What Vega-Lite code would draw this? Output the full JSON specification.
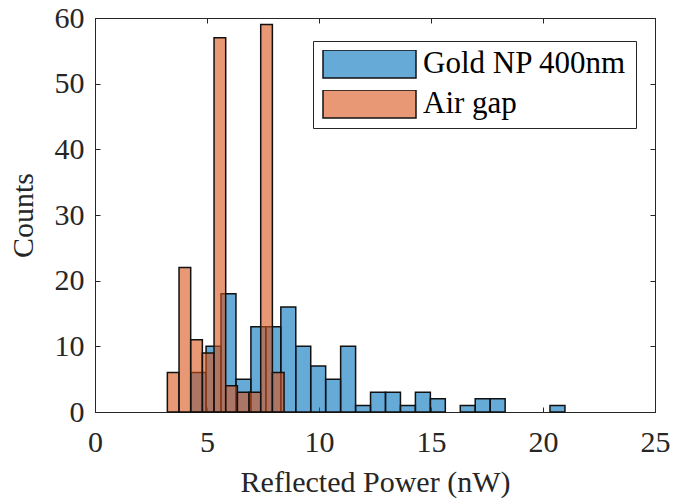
{
  "$schema": "https://vega.github.io/schema/vega-lite/v6.json",
  "width": 560,
  "height": 394,
  "autosize": {"type": "none"},
  "padding": {"left": 95, "top": 18, "right": 33, "bottom": 88},
  "background": "white",
  "config": {
    "font": "Liberation Serif",
    "view": {"stroke": "#262626", "strokeWidth": 1},
    "axis": {
      "grid": false,
      "domainColor": "#262626",
      "tickColor": "#262626",
      "labelColor": "#262626",
      "titleColor": "#262626",
      "labelFont": "Liberation Serif",
      "titleFont": "Liberation Serif",
      "labelFontSize": 30,
      "titleFontSize": 30,
      "titleFontWeight": "normal",
      "labelFlush": false,
      "tickSize": -5,
      "domainWidth": 1
    }
  },
  "data": {
    "values": [
      {"series": "Gold NP 400nm", "x0": 4.29, "x1": 4.958, "count": 6},
      {"series": "Gold NP 400nm", "x0": 4.958, "x1": 5.625, "count": 10},
      {"series": "Gold NP 400nm", "x0": 5.625, "x1": 6.293, "count": 18},
      {"series": "Gold NP 400nm", "x0": 6.293, "x1": 6.96, "count": 5},
      {"series": "Gold NP 400nm", "x0": 6.96, "x1": 7.628, "count": 13},
      {"series": "Gold NP 400nm", "x0": 7.628, "x1": 8.296, "count": 13},
      {"series": "Gold NP 400nm", "x0": 8.296, "x1": 8.963, "count": 16},
      {"series": "Gold NP 400nm", "x0": 8.963, "x1": 9.631, "count": 10},
      {"series": "Gold NP 400nm", "x0": 9.631, "x1": 10.298, "count": 7},
      {"series": "Gold NP 400nm", "x0": 10.298, "x1": 10.966, "count": 5},
      {"series": "Gold NP 400nm", "x0": 10.966, "x1": 11.634, "count": 10},
      {"series": "Gold NP 400nm", "x0": 11.634, "x1": 12.301, "count": 1},
      {"series": "Gold NP 400nm", "x0": 12.301, "x1": 12.969, "count": 3},
      {"series": "Gold NP 400nm", "x0": 12.969, "x1": 13.636, "count": 3},
      {"series": "Gold NP 400nm", "x0": 13.636, "x1": 14.304, "count": 1},
      {"series": "Gold NP 400nm", "x0": 14.304, "x1": 14.972, "count": 3},
      {"series": "Gold NP 400nm", "x0": 14.972, "x1": 15.639, "count": 2},
      {"series": "Gold NP 400nm", "x0": 16.307, "x1": 16.974, "count": 1},
      {"series": "Gold NP 400nm", "x0": 16.974, "x1": 17.642, "count": 2},
      {"series": "Gold NP 400nm", "x0": 17.642, "x1": 18.31, "count": 2},
      {"series": "Gold NP 400nm", "x0": 20.312, "x1": 20.98, "count": 1},
      {"series": "Air gap", "x0": 3.23, "x1": 3.751, "count": 6},
      {"series": "Air gap", "x0": 3.751, "x1": 4.272, "count": 22},
      {"series": "Air gap", "x0": 4.272, "x1": 4.793, "count": 11},
      {"series": "Air gap", "x0": 4.793, "x1": 5.314, "count": 9},
      {"series": "Air gap", "x0": 5.314, "x1": 5.835, "count": 57},
      {"series": "Air gap", "x0": 5.835, "x1": 6.356, "count": 4},
      {"series": "Air gap", "x0": 6.356, "x1": 6.877, "count": 3},
      {"series": "Air gap", "x0": 6.877, "x1": 7.398, "count": 3},
      {"series": "Air gap", "x0": 7.398, "x1": 7.919, "count": 59},
      {"series": "Air gap", "x0": 7.919, "x1": 8.44, "count": 6}
    ]
  },
  "layer": [
    {
      "transform": [{"filter": "datum.series === 'Gold NP 400nm'"}],
      "mark": {"type": "rect", "fillOpacity": 0.6, "stroke": "#111111", "strokeWidth": 1.5},
      "encoding": {
        "x": {
          "field": "x0", "type": "quantitative",
          "scale": {"domain": [0, 25], "nice": false, "zero": false},
          "axis": {"orient": "bottom", "values": [0, 5, 10, 15, 20, 25], "title": "Reflected Power (nW)", "labelPadding": 20, "titlePadding": 10}
        },
        "x2": {"field": "x1"},
        "y": {
          "field": "count", "type": "quantitative",
          "scale": {"domain": [0, 60], "nice": false},
          "axis": {"orient": "left", "values": [0, 10, 20, 30, 40, 50, 60], "title": "Counts", "labelPadding": 16, "titlePadding": 16}
        },
        "y2": {"datum": 0},
        "color": {
          "field": "series", "type": "nominal",
          "scale": {"domain": ["Gold NP 400nm", "Air gap"], "range": ["#0072BD", "#D95319"]},
          "legend": {
            "title": null,
            "orient": "none",
            "direction": "vertical",
            "legendX": 218,
            "legendY": 23,
            "symbolType": "M-1,-0.3H1V0.3H-1Z",
            "symbolSize": 8649,
            "clipHeight": 28,
            "rowPadding": 9,
            "labelFontSize": 31,
            "labelFont": "Liberation Serif",
            "labelColor": "#000000",
            "labelOffset": 6,
            "labelLimit": 300,
            "padding": 9,
            "fillColor": "white",
            "strokeColor": "#262626",
            "symbolStrokeColor": "#111111",
            "symbolStrokeWidth": 1.5,
            "encode": {"symbols": {"update": {"fillOpacity": {"value": 0.6}}}}
          }
        }
      }
    },
    {
      "transform": [{"filter": "datum.series === 'Air gap'"}],
      "mark": {"type": "rect", "fillOpacity": 0.6, "stroke": "#111111", "strokeWidth": 1.5},
      "encoding": {
        "x": {
          "field": "x0", "type": "quantitative",
          "axis": {"orient": "top", "values": [0, 5, 10, 15, 20, 25], "labels": false, "title": null}
        },
        "x2": {"field": "x1"},
        "y": {
          "field": "count", "type": "quantitative",
          "axis": {"orient": "right", "values": [0, 10, 20, 30, 40, 50, 60], "labels": false, "title": null}
        },
        "y2": {"datum": 0},
        "color": {"field": "series", "type": "nominal"}
      }
    }
  ],
  "resolve": {"axis": {"x": "independent", "y": "independent"}}
}
